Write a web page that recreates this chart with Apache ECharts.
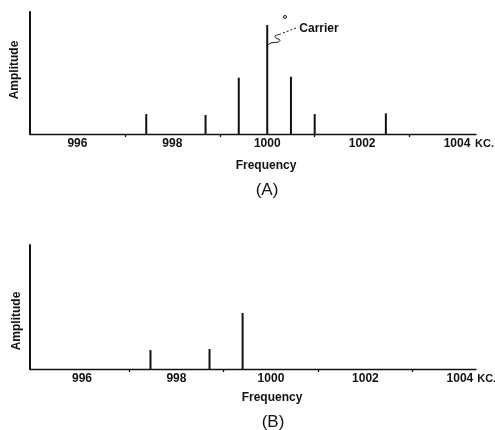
<!DOCTYPE html>
<html><head><meta charset="utf-8">
<script src="https://cdn.jsdelivr.net/npm/echarts@6/dist/echarts.min.js"></script>
<style>html,body{margin:0;padding:0;background:#fff;}#c{width:495px;height:430px;}</style>
</head><body><div id="c"></div>
<script>
// Spectrum (A): full AM signal
const freqA = [997.45, 998.7, 999.4, 1000, 1000.5, 1001, 1002.5];
const ampA  = [0.183, 0.174, 0.517, 1.0, 0.526, 0.183, 0.19];
// Spectrum (B): single sideband
const freqB = [997.45, 998.7, 999.4];
const ampB  = [0.174, 0.183, 0.514];
const labelTicks = [996, 998, 1000, 1002, 1004];
const minorTicks = [997, 999, 1001, 1003];

const FONT = 'Liberation Sans';
const chart = echarts.init(document.getElementById('c'), null, {renderer:'canvas'});

function xAxisCfg(gi, min, max) {
  return {
    type: 'value', gridIndex: gi, min: min, max: max,
    axisLine: {show: true, lineStyle: {color: '#111', width: 1.3}},
    axisTick: {show: true, customValues: minorTicks, length: 3, inside: false, lineStyle: {color: '#111', width: 1.3}},
    axisLabel: {show: true, customValues: labelTicks, margin: 4, color: '#111',
      fontFamily: FONT, fontSize: 12, fontWeight: 'bold', formatter: v => String(Math.round(v))},
    splitLine: {show: false},
    name: 'KC.', nameLocation: 'end', nameGap: -1,
    nameTextStyle: {color: '#111', fontFamily: FONT, fontSize: 11, fontWeight: 'bold', verticalAlign: 'top', padding: [4,0,0,0]}
  };
}
function yAxisCfg(gi, max) {
  return {
    type: 'value', gridIndex: gi, min: 0, max: max,
    axisLine: {show: true, lineStyle: {color: '#111', width: 2}},
    axisTick: {show: false}, axisLabel: {show: false}, splitLine: {show: false}
  };
}
function spikes(gi, xs, ys) {
  return {
    type: 'custom', xAxisIndex: gi, yAxisIndex: gi,
    data: xs.map((x, i) => [x, ys[i]]),
    renderItem: function (params, api) {
      const p0 = api.coord([api.value(0), 0]);
      const p1 = api.coord([api.value(0), api.value(1)]);
      return {type: 'line', shape: {x1: p0[0], y1: p0[1], x2: p1[0], y2: p1[1]},
        style: {stroke: '#111', lineWidth: 2}};
    }
  };
}
const txt = (x, y, t, size, weight, extra) => Object.assign({
  type: 'text', x: x, y: y,
  style: {text: t, fill: '#111', font: weight + ' ' + size + 'px "' + FONT + '"', align: 'center', verticalAlign: 'middle'}
}, extra || {});

chart.setOption({
  animation: false,
  backgroundColor: '#fff',
  grid: [
    {left: 30, top: 12, width: 446, height: 122, containLabel: false, outerBoundsMode: 'none'},
    {left: 30, top: 245, width: 446, height: 124, containLabel: false, outerBoundsMode: 'none'}
  ],
  xAxis: [xAxisCfg(0, 995, 1004.4), xAxisCfg(1, 994.9, 1004.34)],
  yAxis: [yAxisCfg(0, 1.12), yAxisCfg(1, 1.138)],
  series: [spikes(0, freqA, ampA), spikes(1, freqB, ampB)],
  graphic: [
    txt(15, 70, 'Amplitude', 12, 'bold', {rotation: Math.PI / 2}),
    txt(266, 166, 'Frequency', 12, 'bold'),
    txt(267, 190, '(A)', 17, 'normal'),
    txt(17, 321, 'Amplitude', 12, 'bold', {rotation: Math.PI / 2}),
    txt(272, 398, 'Frequency', 12, 'bold'),
    txt(273, 422, '(B)', 17, 'normal'),
    txt(319, 29, 'Carrier', 12, 'bold'),
    {type: 'polyline', shape: {points: [[267,46],[271,43],[278,42],[280,40],[276,38],[275,36],[281,34]], smooth: 0.4},
      style: {stroke: '#111', lineWidth: 1, fill: null}},
    {type: 'line', shape: {x1: 283, y1: 33, x2: 296, y2: 28}, style: {stroke: '#111', lineWidth: 1, lineDash: [2, 2]}},
    {type: 'circle', shape: {cx: 285, cy: 17, r: 1.5}, style: {stroke: '#111', lineWidth: 1, fill: '#fff'}}
  ]
});
</script></body></html>
